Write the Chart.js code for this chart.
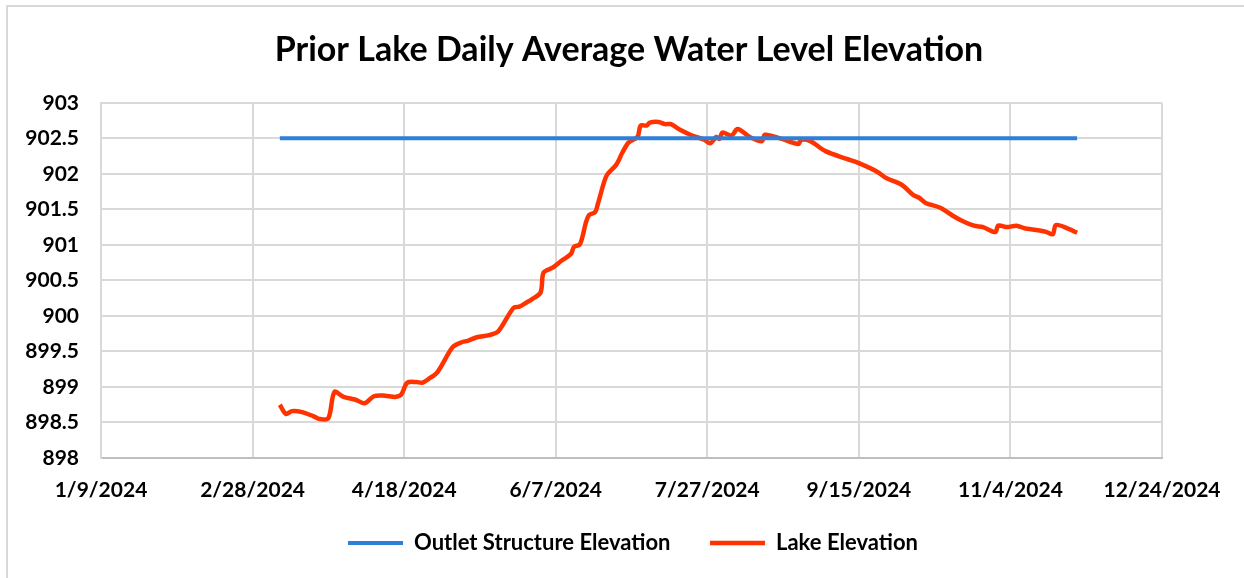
<!DOCTYPE html>
<html>
<head>
<meta charset="utf-8">
<script src="https://cdn.jsdelivr.net/npm/chart.js@4.4.1/dist/chart.umd.min.js"></script>
<style>
  html, body { margin: 0; padding: 0; background: #fff; overflow: hidden; }
  #wrap { position: relative; width: 1244px; height: 578px; }
  #frame { position: absolute; left: 6px; top: 5px; width: 1260px; height: 600px; border: 2px solid #d9d9d9; box-sizing: border-box; }
  canvas { position: absolute; left: 0; top: 0; }
</style>
</head>
<body>
<div id="wrap">
  <div id="frame"></div>
  <canvas id="chart" width="1244" height="578"></canvas>
</div>
<script>
// x = days since 1/9/2024
const tickDays = [0, 50, 100, 150, 200, 250, 300, 350];
const tickLabels = ['1/9/2024', '2/28/2024', '4/18/2024', '6/7/2024', '7/27/2024', '9/15/2024', '11/4/2024', '12/24/2024'];

// 出口结构高程
const outletDays = [59, 322];
const outletLevel = [902.5, 902.5];

// 湖泊水位
const lakeDays = [
  59, 61, 63, 66, 70, 72, 75, 77, 80, 84, 87, 90, 93, 95, 97, 99,
  101, 104, 106, 108, 111, 116, 119, 121, 124, 128, 131, 136, 138, 140, 142, 145,
  146, 149, 152, 155, 156, 158, 160, 161, 163, 164, 166, 167, 170, 172, 174, 177,
  178, 180, 181, 184, 186, 188, 191, 195, 199, 201, 203, 204, 205, 208, 210, 214,
  218, 219, 224, 230, 231, 234, 239, 246, 250, 256, 259, 264, 268, 270, 272, 277,
  281, 284, 288, 291, 295, 296, 299, 302, 305, 310, 312, 314, 315, 319, 322
];
const lakeLevel = [
  898.75, 898.62, 898.66, 898.65, 898.59, 898.55, 898.56, 898.93, 898.86, 898.82, 898.77, 898.87, 898.88, 898.87, 898.86, 898.89,
  899.06, 899.07, 899.06, 899.11, 899.21, 899.56, 899.63, 899.65, 899.70, 899.73, 899.78, 900.11, 900.13, 900.18, 900.23, 900.33,
  900.61, 900.68, 900.78, 900.87, 900.97, 901.01, 901.32, 901.42, 901.46, 901.59, 901.89, 901.99, 902.13, 902.30, 902.44, 902.52,
  902.68, 902.68, 902.72, 902.73, 902.70, 902.70, 902.62, 902.54, 902.48, 902.43, 902.52, 902.49, 902.58, 902.54, 902.63, 902.52,
  902.46, 902.55, 902.50, 902.42, 902.48, 902.46, 902.32, 902.21, 902.15, 902.03, 901.94, 901.85, 901.70, 901.66, 901.59, 901.52,
  901.41, 901.34, 901.27, 901.25, 901.18, 901.27, 901.25, 901.27, 901.23, 901.20, 901.18, 901.15, 901.28, 901.23, 901.17
];

const fontFamily = 'Lato, "Open Sans", sans-serif';
const gridColor = '#d9d9d9';

// 标题和图例以整张图居中，而不是以绘图区居中
const centerBoxes = {
  id: 'centerBoxes',
  afterLayout(c) {
    c.titleBlock.left = 14;
    c.titleBlock.right = 1244;
    c.legend.left = 22;
    c.legend.right = 1244;
  }
};

const ctx = document.getElementById('chart').getContext('2d');
const chart = new Chart(ctx, {
  type: 'line',
  data: {
    datasets: [
      {
        label: 'Outlet Structure Elevation',
        data: outletDays.map((d, i) => ({ x: d, y: outletLevel[i] })),
        borderColor: '#2e7fd8',
        backgroundColor: '#2e7fd8',
        borderWidth: 4,
        pointRadius: 0
      },
      {
        label: 'Lake Elevation',
        data: lakeDays.map((d, i) => ({ x: d, y: lakeLevel[i] })),
        borderColor: '#ff3300',
        backgroundColor: '#ff3300',
        borderWidth: 4.5,
        pointRadius: 0,
        tension: 0.3
      }
    ]
  },
  plugins: [centerBoxes],
  options: {
    responsive: false,
    animation: false,
    layout: { padding: { left: 0, right: 82, top: 20, bottom: 14 } },
    plugins: {
      title: {
        display: true,
        text: 'Prior Lake Daily Average Water Level Elevation',
        color: '#000',
        font: { family: fontFamily, size: 34, weight: 'bold' },
        padding: { top: 10, bottom: 32 }
      },
      legend: {
        position: 'bottom',
        labels: {
          color: '#000',
          font: { family: fontFamily, size: 22, weight: 'bold' },
          usePointStyle: true,
          pointStyle: 'line',
          pointStyleWidth: 55,
          padding: 12,
          generateLabels: (c) => {
            const items = Chart.defaults.plugins.legend.labels.generateLabels(c);
            // 图例项之间留出更大的间距
            items[0].text += '\u2003\u2002';
            return items;
          }
        }
      },
      tooltip: { enabled: false }
    },
    scales: {
      x: {
        type: 'linear',
        min: 0,
        max: 350,
        afterBuildTicks: (axis) => {
          axis.ticks = tickDays.map(v => ({ value: v }));
        },
        ticks: {
          color: '#000',
          font: { family: fontFamily, size: 21, weight: 'bold' },
          padding: 20,
          maxRotation: 0,
          autoSkip: false,
          callback: (v) => tickLabels[tickDays.indexOf(v)]
        },
        grid: { color: gridColor, lineWidth: 2, drawTicks: false },
        border: { color: '#bfbfbf', width: 2 },
        afterFit: (axis) => { axis.height = 62; }
      },
      y: {
        min: 898,
        max: 903,
        ticks: {
          stepSize: 0.5,
          color: '#000',
          font: { family: fontFamily, size: 21, weight: 'bold' },
          padding: 22,
          callback: (v) => String(v)
        },
        grid: { color: gridColor, lineWidth: 2, drawTicks: false },
        border: { color: gridColor, width: 2 },
        afterFit: (axis) => { axis.width = 101; }
      }
    }
  }
});
</script>
</body>
</html>
